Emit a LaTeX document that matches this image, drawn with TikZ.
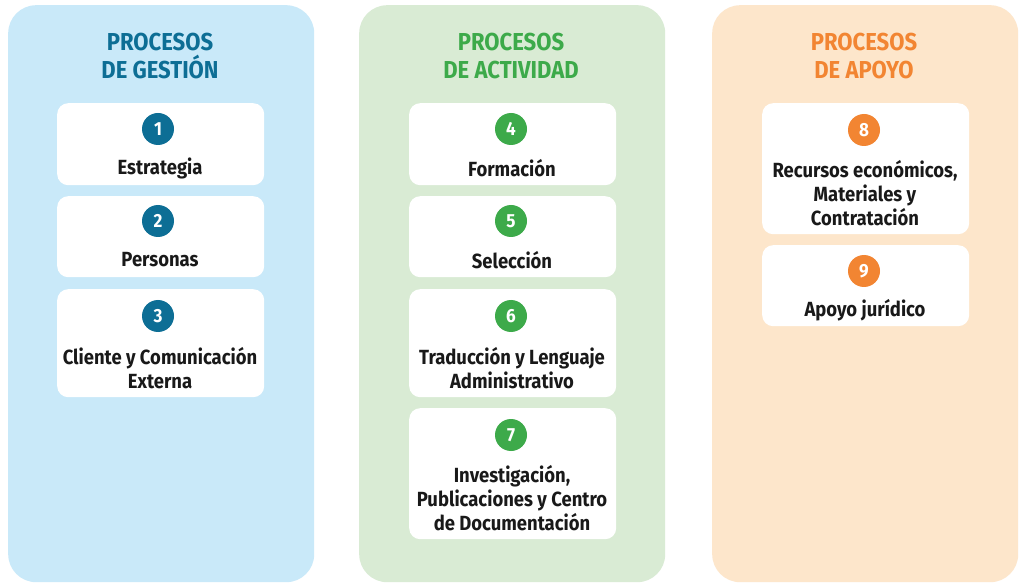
\documentclass[tikz,border=0pt]{standalone}
\usepackage{fontspec}
\setmainfont{Fira Sans}[FakeStretch=0.9]
\begin{document}
\begin{tikzpicture}[x=1pt,y=-1pt,
  panel/.style={draw=none,rounded corners=28pt,minimum width=306pt,minimum height=577pt,anchor=north west,inner sep=0pt},
  box/.style={fill=white,draw=none,rounded corners=11pt,minimum width=207pt,anchor=north west,inner sep=0pt},
  num/.style={circle,fill=#1,text=white,minimum size=32pt,inner sep=0pt,font=\fontsize{19}{19}\selectfont\bfseries},
  lbl/.style={align=center,font=\fontsize{20.5}{24}\selectfont\bfseries,text=black!90,inner sep=0pt},
  ttl/.style={align=center,font=\fontsize{24.5}{28.5}\selectfont\bfseries,text=#1,inner sep=0pt}]
\definecolor{pblue}{HTML}{C9E9F9}
\definecolor{pgreen}{HTML}{D9EBD4}
\definecolor{porange}{HTML}{FDE6CB}
\definecolor{cblue}{HTML}{0D6E95}
\definecolor{cgreen}{HTML}{3DAA4A}
\definecolor{corange}{HTML}{F28532}
\useasboundingbox (0,0) rectangle (1020,585);
\fill[white] (0,0) rectangle (1020,585);
% panels
\node[panel,fill=pblue] (p1) at (8,5) {};
\node[panel,fill=pgreen] (p2) at (359,5) {};
\node[panel,fill=porange] (p3) at (712,5) {};
% titles
\node[ttl=cblue] (t1) at (160,56) {PROCESOS\\DE GESTIÓN};
\node[ttl=cgreen] (t2) at (511,56) {PROCESOS\\DE ACTIVIDAD};
\node[ttl=corange] (t3) at (864,56) {PROCESOS\\DE APOYO};
% boxes column 1
\node[box,minimum height=82pt] (b1) at (57,103) {};
\node[box,minimum height=81pt] (b2) at (57,196) {};
\node[box,minimum height=108pt] (b3) at (57,289) {};
% column 2
\node[box,minimum height=82pt] (b4) at (409,103) {};
\node[box,minimum height=81pt] (b5) at (409,196) {};
\node[box,minimum height=108pt] (b6) at (409,289) {};
\node[box,minimum height=131pt] (b7) at (409,408) {};
% column 3
\node[box,minimum height=131pt] (b8) at (762,103) {};
\node[box,minimum height=81pt] (b9) at (762,245) {};
% numbers
\node[num=cblue] (n1) at (158,129) {1};
\node[num=cblue] (n2) at (158,221) {2};
\node[num=cblue] (n3) at (158,316) {3};
\node[num=cgreen] (n4) at (511,129) {4};
\node[num=cgreen] (n5) at (511,221) {5};
\node[num=cgreen] (n6) at (511,316) {6};
\node[num=cgreen] (n7) at (511,435) {7};
\node[num=corange] (n8) at (864,130) {8};
\node[num=corange] (n9) at (864,271) {9};
% labels
\node[lbl] (l1) at (160,168) {Estrategia};
\node[lbl] (l2) at (160,260) {Personas};
\node[lbl] (l3) at (160,368) {Cliente y Comunicación\\Externa};
\node[lbl] (l4) at (512,168) {Formación};
\node[lbl] (l5) at (512,260) {Selección};
\node[lbl] (l6) at (512,368) {Traducción y Lenguaje\\Administrativo};
\node[lbl] (l7) at (512,498) {Investigación,\\Publicaciones y Centro\\de Documentación};
\node[lbl] (l8) at (865,193) {Recursos económicos,\\Materiales y\\Contratación};
\node[lbl] (l9) at (865,310) {Apoyo jurídico};
\end{tikzpicture}
\end{document}
